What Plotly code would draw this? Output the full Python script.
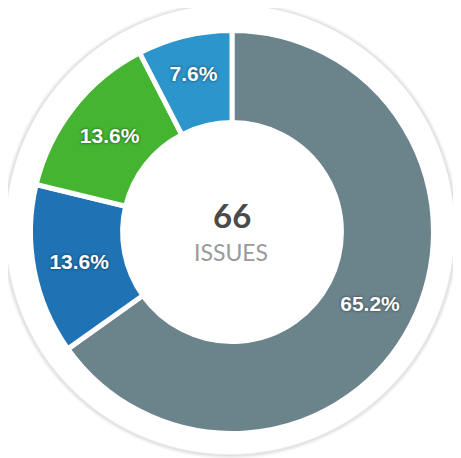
import plotly.graph_objects as go

labels = ["Gray", "Dark blue", "Green", "Light blue"]
values = [43, 9, 9, 5]
colors = ["#6b848c", "#1f73b4", "#44b431", "#2b95cc"]
total_label = "66"
sub_label = "ISSUES"

W, H = 461, 458
OFF = 8  # page body margin offset in the browser
cx, cy = 232 - OFF, 232 - OFF  # pixel center (from top)
R = 201.5

def px_x(x):
    return x / W

def px_y(y):
    return (H - y) / H

fig = go.Figure()
fig.add_trace(go.Pie(
    labels=labels, values=values, sort=False, direction="clockwise", rotation=0,
    hole=0.543,
    marker=dict(colors=colors, line=dict(color="white", width=5)),
    textinfo="percent", texttemplate="%{percent:.1%}",
    textposition="inside", insidetextorientation="horizontal",
    textfont=dict(family="Liberation Sans, Arial", size=21, color="white", weight="bold",
                  shadow="0px 0px 3px rgba(0,0,0,0.6)"),
    showlegend=False, hoverinfo="label+value+percent",
    domain=dict(x=[px_x(cx - R), px_x(cx + R)], y=[px_y(cy + R), px_y(cy - R)]),
))

# background circle with soft shadow
shapes = []
bcx, bcy, br = 230 - OFF, 229 - OFF, 224
for i, a in enumerate([0.02, 0.035, 0.05, 0.07]):
    rr = br + 4 - i
    shapes.append(dict(type="circle", xref="paper", yref="paper",
                       x0=px_x(bcx - rr), x1=px_x(bcx + rr), y0=px_y(bcy + rr + 1), y1=px_y(bcy - rr + 1),
                       line=dict(color=f"rgba(0,0,0,{a})", width=2), fillcolor="rgba(0,0,0,0)", layer="below"))
shapes.append(dict(type="circle", xref="paper", yref="paper",
                   x0=px_x(bcx - br), x1=px_x(bcx + br), y0=px_y(bcy + br), y1=px_y(bcy - br),
                   line=dict(color="rgba(0,0,0,0)", width=0), fillcolor="white", layer="below"))

fig.update_layout(
    width=W, height=H, margin=dict(l=0, r=0, t=0, b=0),
    paper_bgcolor="white", plot_bgcolor="white",
    shapes=shapes,
    annotations=[
        dict(text=f"<b>{total_label}</b>", x=px_x(232 - OFF), y=px_y(215 - OFF), xref="paper", yref="paper",
             showarrow=False, font=dict(family="Lato", size=33, color="#4a4a4a")),
        dict(text=sub_label, x=px_x(231 - OFF), y=px_y(252 - OFF), xref="paper", yref="paper",
             showarrow=False, font=dict(family="Lato", size=23, color="#9a9a9a")),
    ],
)
fig.write_html("out.html")
